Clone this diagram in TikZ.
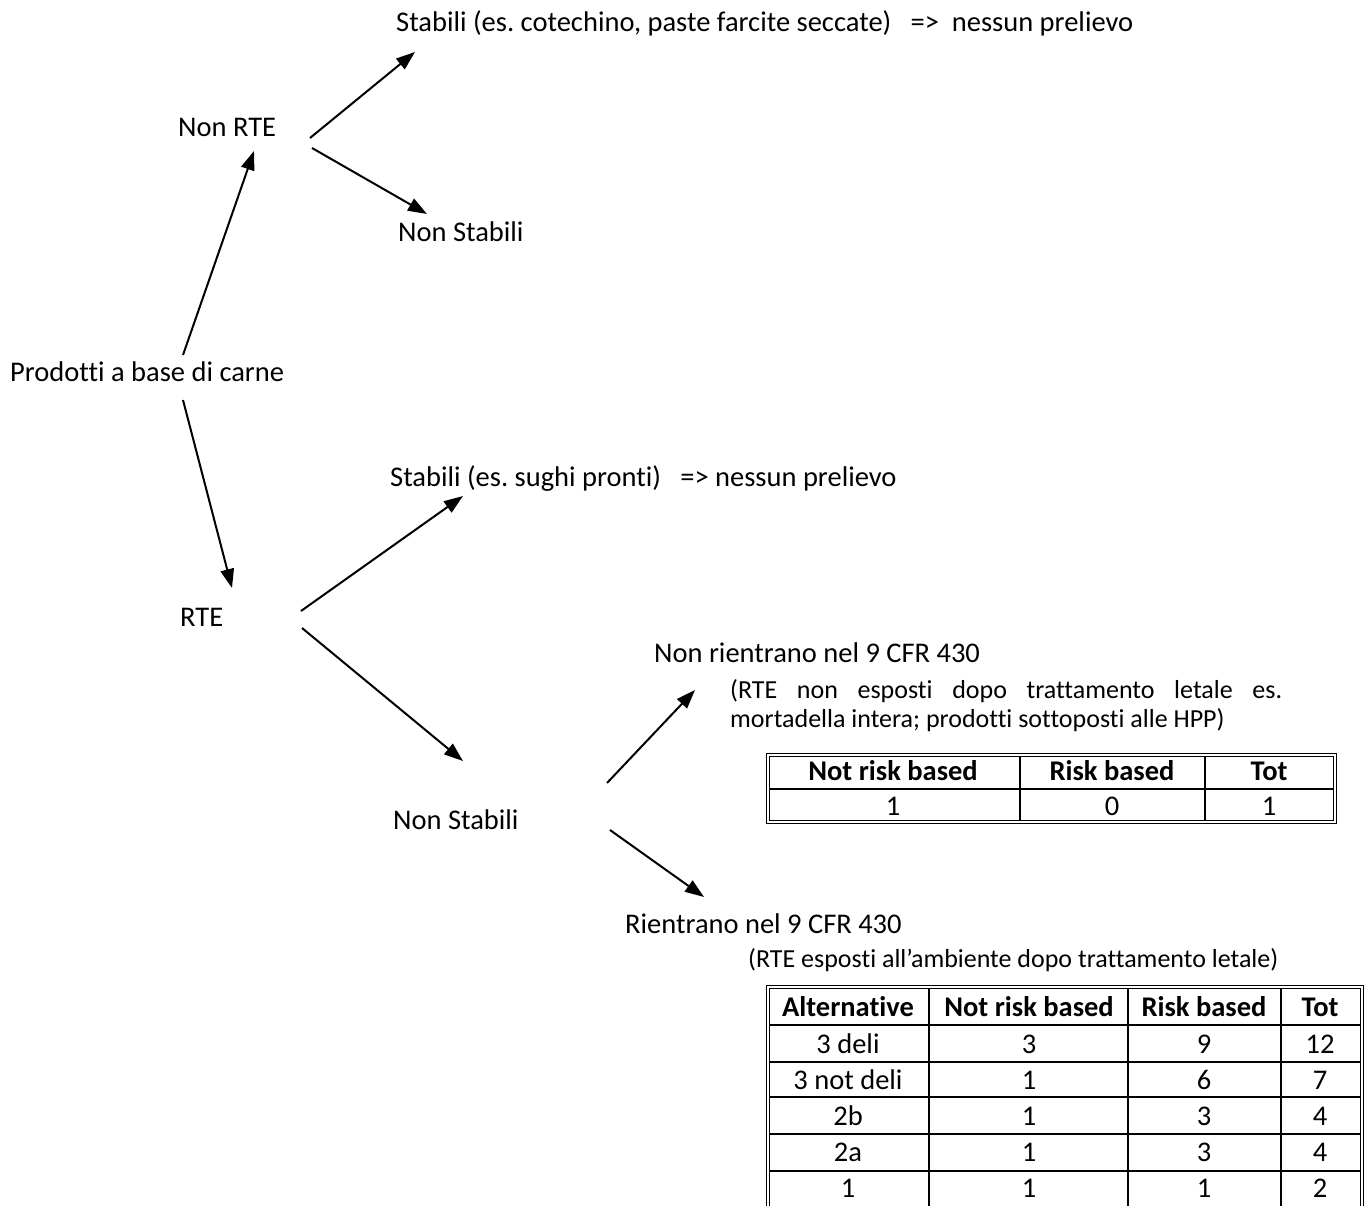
\documentclass[tikz,border=0pt]{standalone}
\usepackage{fontspec}
\setmainfont{Carlito}[Ligatures=NoCommon]
\usetikzlibrary{arrows.meta}
\frenchspacing
\newcommand\mainfs{\fontsize{28.5}{34}\selectfont}
\newcommand\smfs{\fontsize{26}{31}\selectfont}
\tikzset{
  lbl/.style={anchor=base west, inner sep=0pt, font=\mainfs},
  sml/.style={anchor=base west, inner sep=0pt, font=\smfs},
  cell/.style={anchor=base, inner sep=0pt, font=\bfseries\mainfs},
  arr/.style={-{Triangle[length=19pt,width=13.5pt]}, line width=2pt},
  tline/.style={line width=1.6pt},
  tout/.style={line width=1pt}
}
\begin{document}
\begin{tikzpicture}[x=1pt,y=-1pt]
\useasboundingbox (0,0) rectangle (1372,1206);

% labels
\node[lbl] (stab1) at (396,32) {Stabili (es. cotechino, paste farcite seccate) \ \ =>\ \ nessun prelievo};
\node[lbl] (nonrte) at (178,137) {Non RTE};
\node[lbl] (nonstab1) at (398,241) {Non Stabili};
\node[lbl] (prod) at (10,381) {Prodotti a base di carne};
\node[lbl] (stab2) at (390,486) {Stabili (es. sughi pronti) \ \ =>\ nessun prelievo};
\node[lbl] (rte) at (180,626) {RTE};
\node[lbl] (nonrien) at (654,662) {Non rientrano nel 9 CFR 430};
\node[sml] (nrdesc1) at (730,698) {\makebox[552pt][s]{(RTE non esposti dopo trattamento letale es.}};
\node[sml] (nrdesc2) at (730,727) {mortadella intera; prodotti sottoposti alle HPP)};
\node[lbl] (nonstab2) at (393,829) {Non Stabili};
\node[lbl] (rien) at (625,933) {Rientrano nel 9 CFR 430};
\node[sml] (rdesc) at (748,967) {(RTE esposti all’ambiente dopo trattamento letale)};

% connector end points
\coordinate (a1s) at (183,355); \coordinate (a1e) at (254,151);
\coordinate (a2s) at (183,400); \coordinate (a2e) at (232,588);
\coordinate (a3s) at (310,138); \coordinate (a3e) at (415,52);
\coordinate (a4s) at (312,148); \coordinate (a4e) at (427,214);
\coordinate (a5s) at (301,611); \coordinate (a5e) at (463,496);
\coordinate (a6s) at (302,628); \coordinate (a6e) at (463,761);
\coordinate (a7s) at (607,783); \coordinate (a7e) at (695,690);
\coordinate (a8s) at (610,830); \coordinate (a8e) at (704,897);

\draw[arr] (a1s) -- (a1e);
\draw[arr] (a2s) -- (a2e);
\draw[arr] (a3s) -- (a3e);
\draw[arr] (a4s) -- (a4e);
\draw[arr] (a5s) -- (a5e);
\draw[arr] (a6s) -- (a6e);
\draw[arr] (a7s) -- (a7e);
\draw[arr] (a8s) -- (a8e);

% table 1
\draw[tout] (766,753) rectangle (1336,823);
\draw[tout] (769,756) rectangle (1333,820);
\draw[tline] (769,789) -- (1333,789);
\draw[tline] (1020,756) -- (1020,820);
\draw[tline] (1205,756) -- (1205,820);
\node[cell] (t1h1) at (893,780) {Not risk based};
\node[cell] (t1h2) at (1112,780) {Risk based};
\node[cell] (t1h3) at (1269,780) {Tot};
\node[cell,font=\mainfs] (t1c1) at (893,815) {1};
\node[cell,font=\mainfs] (t1c2) at (1112,815) {0};
\node[cell,font=\mainfs] (t1c3) at (1269,815) {1};

% table 2
\draw[tout] (766,1206) -- (766,985) -- (1363,985) -- (1363,1206);
\draw[tout] (769,1206) -- (769,988) -- (1360,988) -- (1360,1206);
\foreach \yy in {1025,1062,1097,1134,1171} {\draw[tline] (769,\yy) -- (1360,\yy);}
\foreach \xx in {929,1128,1281} {\draw[tline] (\xx,988) -- (\xx,1206);}
\node[cell] (t2h1) at (848,1016) {Alternative};
\node[cell] (t2h2) at (1029,1016) {Not risk based};
\node[cell] (t2h3) at (1204,1016) {Risk based};
\node[cell] (t2h4) at (1320,1016) {Tot};
\foreach \r/\yy/\a/\b/\c/\d in {1/1053/3 deli/3/9/12, 2/1089/3 not deli/1/6/7, 3/1125/2b/1/3/4, 4/1161/2a/1/3/4, 5/1197/1/1/1/2} {
  \node[cell,font=\mainfs] (t2r\r a) at (848,\yy) {\a};
  \node[cell,font=\mainfs] (t2r\r b) at (1029,\yy) {\b};
  \node[cell,font=\mainfs] (t2r\r c) at (1204,\yy) {\c};
  \node[cell,font=\mainfs] (t2r\r d) at (1320,\yy) {\d};
}
\end{tikzpicture}
\end{document}
